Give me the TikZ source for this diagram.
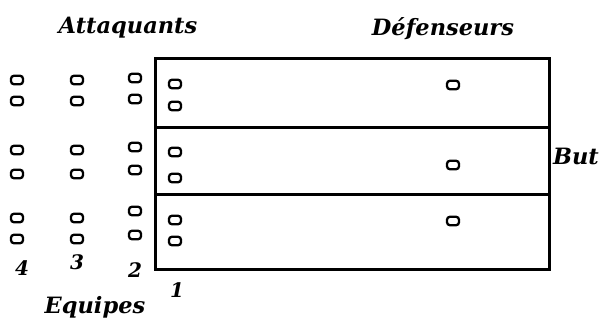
\documentclass[tikz,border=0pt]{standalone}
\usepackage{fontspec}
\newfontfamily\titrefont{DejaVu Serif}
\usetikzlibrary{positioning}
\tikzset{pion/.style={draw, line width=2.3pt, rounded corners=3pt, minimum width=12pt, minimum height=8.5pt, inner sep=0pt},
  titre/.style={font=\titrefont\bfseries\itshape\fontsize{22.5}{22.5}\selectfont},
  num/.style={font=\titrefont\bfseries\itshape\fontsize{20}{20}\selectfont},
  bord/.style={line width=3pt}}
\begin{document}
\begin{tikzpicture}[x=1pt, y=-1pt]
  \useasboundingbox (0,0) rectangle (600,321);
  % terrain (trois couloirs)
  \draw[bord] (155,59) rectangle (549,127);
  \draw[bord] (155,127) rectangle (549,194);
  \draw[bord] (155,194) rectangle (549,269);
  % equipes en attente
  \foreach \n/\x in {4/17, 3/77}{
    \node[pion] (e\n a) at (\x,80) {};
    \node[pion] (e\n b) at (\x,101) {};
    \node[pion] (e\n c) at (\x,150) {};
    \node[pion] (e\n d) at (\x,174) {};
    \node[pion] (e\n e) at (\x,218) {};
    \node[pion] (e\n f) at (\x,239) {};}
  \foreach \r/\y in {a/78, b/99, c/147, d/170, e/211, f/235}{\node[pion] (e2\r) at (135,\y) {};}
  % equipe 1 sur le terrain
  \foreach \r/\y in {a/84, b/106, c/152, d/178, e/220, f/241}{\node[pion] (e1\r) at (175,\y) {};}
  % defenseurs
  \foreach \r/\y in {a/85, b/165, c/221}{\node[pion] (def\r) at (453,\y) {};}
  % textes
  \node[titre] (att) at (128,28) {Attaquants};
  \node[titre] (dfs) at (443,29) {Défenseurs};
  \node[titre, anchor=east, inner xsep=1pt] (but) at (600,156) {But};
  \node[titre] (eqp) at (95,307) {Equipes};
  \node[num] (n4) at (22,268) {4};
  \node[num] (n3) at (77,262) {3};
  \node[num] (n2) at (135,270) {2};
  \node[num] (n1) at (177,290) {1};
\end{tikzpicture}
\end{document}
